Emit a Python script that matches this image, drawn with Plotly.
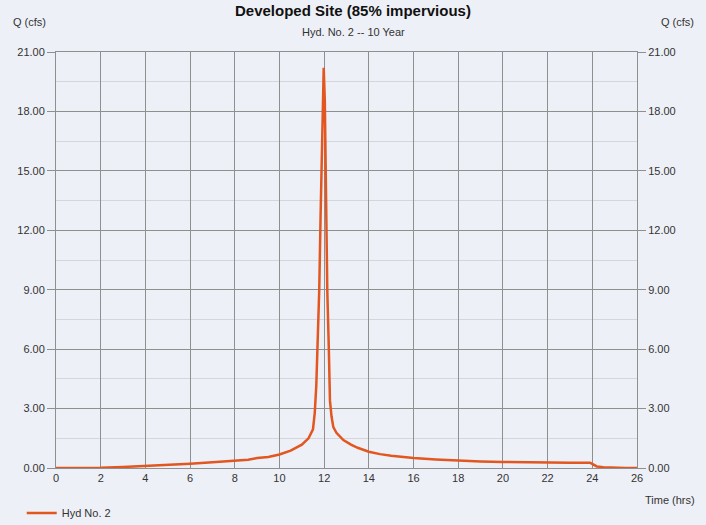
import plotly.graph_objects as go

# Hydrograph data
time_hrs = [0, 1, 2, 3, 4, 5, 6, 7, 8, 8.6, 9.0, 9.5, 10.0, 10.5, 11.0, 11.3,
            11.5, 11.58, 11.65, 11.71, 11.78, 11.84, 11.9, 11.95, 11.98, 12.03,
            12.08, 12.14, 12.21, 12.26, 12.33, 12.41, 12.55, 12.7, 12.86, 13.2,
            13.5, 14.0, 14.5, 15.0, 16.0, 17.0, 18.0, 19.0, 20.0, 21.0, 22.0,
            23.0, 23.9, 24.05, 24.2, 24.5, 24.9, 25.5, 26.0]
q_cfs = [0.0, 0.0, 0.01, 0.05, 0.1, 0.15, 0.22, 0.29, 0.36, 0.42, 0.5, 0.56, 0.68, 0.88, 1.18, 1.5,
         1.95, 2.8, 4.2, 5.96, 9.0, 12.7, 16.5, 19.6, 20.2, 18.5,
         12.7, 9.0, 5.96, 3.4, 2.6, 2.07, 1.78, 1.58, 1.41, 1.18,
         1.02, 0.82, 0.7, 0.62, 0.5, 0.43, 0.37, 0.33, 0.30, 0.28, 0.27,
         0.27, 0.27, 0.18, 0.08, 0.04, 0.01, 0.0, 0.0]

x_ticks = list(range(0, 27, 2))
y_ticks = [0, 3, 6, 9, 12, 15, 18, 21]
y_tick_text = [f"{v:.2f}" for v in y_ticks]

line_color = "#e2561f"
bg = "#eef0f7"
grid = "#8f8f8f"
font_family = "Liberation Sans, Arial, sans-serif"

fig = go.Figure()
fig.add_trace(go.Scatter(x=time_hrs, y=q_cfs, mode="lines", name="Hyd No. 2",
                         line=dict(color=line_color, width=2.5), yaxis="y"))
fig.add_trace(go.Scatter(x=time_hrs, y=q_cfs, mode="lines", showlegend=False,
                         line=dict(color=line_color, width=0), opacity=0,
                         hoverinfo="skip", yaxis="y2"))

axis_font = dict(family=font_family, size=11, color="#333333")

fig.update_layout(
    width=706, height=525,
    margin=dict(l=56, r=69, t=52, b=57, autoexpand=False),
    paper_bgcolor=bg, plot_bgcolor=bg,
    font=dict(family=font_family, color="#222222"),
    showlegend=True,
    legend=dict(orientation="h", x=-0.059, y=-0.108, xanchor="left", yanchor="middle",
                bgcolor="rgba(0,0,0,0)", font=dict(family=font_family, size=11, color="#333333")),
    xaxis=dict(range=[0, 26], tickvals=x_ticks, showgrid=True, gridcolor=grid, gridwidth=1,
               zeroline=False, showline=True, linecolor=grid, mirror=True, automargin=False,
               ticks="", tickfont=axis_font),
    yaxis=dict(range=[0, 21], tickvals=y_ticks, ticktext=y_tick_text, showgrid=True,
               gridcolor=grid, gridwidth=1, zeroline=False, showline=True, linecolor=grid,
               ticks="outside", ticklen=8, tickcolor=grid, tickfont=axis_font, automargin=False,
               minor=dict(dtick=1.5, showgrid=True, gridcolor="#d4d6dc", gridwidth=1)),
    yaxis2=dict(range=[0, 21], tickvals=y_ticks, ticktext=y_tick_text, overlaying="y",
                side="right", showgrid=False, zeroline=False, showline=True, linecolor=grid,
                ticks="outside", ticklen=8, tickcolor=grid, tickfont=axis_font, automargin=False),
    annotations=[
        dict(text="<b>Developed Site (85% impervious)</b>", xref="paper", yref="paper",
             x=0.512, y=1.1, xanchor="center", yanchor="middle", showarrow=False,
             font=dict(family=font_family, size=15, color="#111111")),
        dict(text="Hyd. No. 2 -- 10 Year", xref="paper", yref="paper",
             x=0.512, y=1.048, xanchor="center", yanchor="middle", showarrow=False,
             font=dict(family=font_family, size=11, color="#333333")),
        dict(text="Q (cfs)", xref="paper", yref="paper", x=-0.045, y=1.072,
             xanchor="center", yanchor="middle", showarrow=False,
             font=dict(family=font_family, size=11, color="#333333")),
        dict(text="Q (cfs)", xref="paper", yref="paper", x=1.07, y=1.072,
             xanchor="center", yanchor="middle", showarrow=False,
             font=dict(family=font_family, size=11, color="#333333")),
        dict(text="Time (hrs)", xref="paper", yref="paper", x=1.057, y=-0.077,
             xanchor="center", yanchor="middle", showarrow=False,
             font=dict(family=font_family, size=11, color="#333333")),
    ],
)

fig.write_html(
    "out.html",
    config={"displayModeBar": False},
    post_script=f"document.body.style.margin='0';document.body.style.background='{bg}';",
)
